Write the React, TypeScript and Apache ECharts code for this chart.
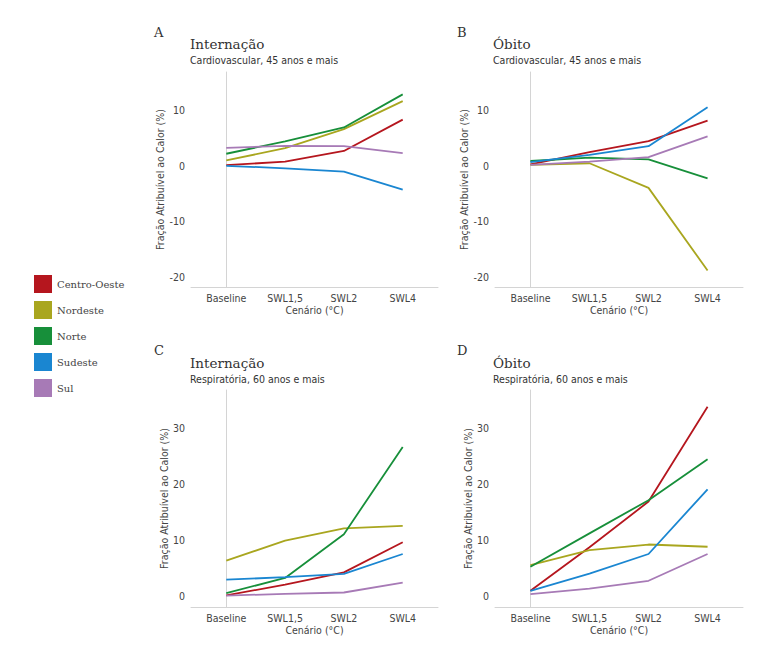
import React, { useEffect, useRef } from "react";
import * as echarts from "echarts";

const categories = ["Baseline", "SWL1,5", "SWL2", "SWL4"];
const regions = ["Centro-Oeste", "Nordeste", "Norte", "Sudeste", "Sul"];
const regionColors = ["#B5161E", "#A9A61F", "#178F3A", "#1A86D1", "#A77AB6"];

// order of rows follows `regions`
const internacaoCardio = [
  [0.05, 0.7, 2.6, 8.2],
  [0.9, 3.1, 6.5, 11.5],
  [2.1, 4.3, 6.8, 12.7],
  [-0.05, -0.5, -1.1, -4.3],
  [3.15, 3.5, 3.45, 2.2],
];
const obitoCardio = [
  [0.2, 2.4, 4.35, 8.0],
  [0.1, 0.4, -4.0, -18.75],
  [0.8, 1.4, 1.1, -2.3],
  [0.6, 1.9, 3.45, 10.4],
  [0.1, 0.7, 1.5, 5.2],
];
const internacaoResp = [
  [0.1, 2.0, 4.2, 9.6],
  [6.3, 9.9, 12.1, 12.55],
  [0.5, 3.2, 11.05, 26.7],
  [2.9, 3.35, 3.95, 7.5],
  [0.05, 0.35, 0.6, 2.35],
];
const obitoResp = [
  [0.9, 8.7, 16.9, 33.9],
  [5.5, 8.2, 9.2, 8.8],
  [5.2, 11.2, 17.15, 24.5],
  [0.9, 4.0, 7.5, 19.1],
  [0.3, 1.3, 2.7, 7.5],
];

const cardioRange = [-21.7, 16.7];
const respRange = [-2, 36.9];

const panelLetters = ["A", "B", "C", "D"];
const panelTitles = ["Internação", "Óbito", "Internação", "Óbito"];
const panelSubtitles = [
  "Cardiovascular, 45 anos e mais",
  "Cardiovascular, 45 anos e mais",
  "Respiratória, 60 anos e mais",
  "Respiratória, 60 anos e mais",
];
const yAxisTitle = "Fração Atribuível ao Calor (%)";
const xAxisTitle = "Cenário (°C)";

const NARROW = "'Liberation Sans Narrow', 'DejaVu Sans Condensed', Roboto, sans-serif";
const SERIF = "'DejaVu Serif', 'Liberation Serif', serif";

export default function App() {
  const ref = useRef<HTMLDivElement>(null);

  useEffect(() => {
    if (!ref.current) return;
    const chart = echarts.init(ref.current, null, { renderer: "svg" });

    const panels = [internacaoCardio, obitoCardio, internacaoResp, obitoResp];
    const ranges = [cardioRange, cardioRange, respRange, respRange];
    const grids = [
      { left: 191, top: 72, width: 247, height: 215 },
      { left: 495, top: 72, width: 248, height: 215 },
      { left: 191, top: 390, width: 247, height: 217 },
      { left: 495, top: 390, width: 248, height: 217 },
    ];
    const titlePos = [
      { lx: 154, ly: 32, tx: 190, ty: 44, sy: 60 },
      { lx: 457, ly: 32, tx: 493, ty: 44, sy: 60 },
      { lx: 154, ly: 350, tx: 190, ty: 363, sy: 379 },
      { lx: 457, ly: 350, tx: 493, ty: 363, sy: 379 },
    ];

    const axisLineStyle = { color: "#d4d4d4", width: 1 };
    const labelStyle = { color: "#444", fontFamily: NARROW, fontSize: 10.5 };

    const xAxes = grids.map((_, i) => ({
      type: "value",
      gridIndex: i,
      min: -0.6,
      max: 3.6,
      splitNumber: 4,
      axisLine: { show: true, lineStyle: axisLineStyle, onZero: false },
      axisTick: { show: false },
      splitLine: { show: false },
      axisLabel: {
        ...labelStyle,
        margin: 5,
        formatter: (v: number) =>
          Number.isInteger(v) && v >= 0 && v < categories.length ? categories[v] : "",
      },
      name: xAxisTitle,
      nameLocation: "middle",
      nameGap: 17,
      nameTextStyle: { color: "#444", fontFamily: NARROW, fontSize: 10.5 },
    }));

    const yAxes = grids.map((_, i) => ({
      type: "value",
      gridIndex: i,
      min: ranges[i][0],
      max: ranges[i][1],
      splitNumber: 4,
      axisLine: { show: true, lineStyle: axisLineStyle },
      axisTick: { show: false },
      splitLine: { show: false },
      axisLabel: {
        ...labelStyle,
        margin: 6,
        formatter: (v: number) => (Math.abs(v % 10) < 1e-9 ? String(v) : ""),
      },
      name: yAxisTitle,
      nameLocation: "middle",
      nameGap: 17,
      nameTextStyle: { color: "#444", fontFamily: NARROW, fontSize: 10.5 },
    }));

    const series: any[] = [];
    panels.forEach((panel, p) => {
      panel.forEach((vals, r) => {
        series.push({
          type: "line",
          name: regions[r],
          xAxisIndex: p,
          yAxisIndex: p,
          data: vals.map((v, k) => [k, v]),
          showSymbol: false,
          symbol: "none",
          lineStyle: { color: regionColors[r], width: 1.8 },
          itemStyle: { color: regionColors[r] },
          silent: true,
        });
      });
    });

    const graphics: any[] = [];
    titlePos.forEach((t, i) => {
      graphics.push({
        type: "text",
        x: t.lx,
        y: t.ly,
        style: { text: panelLetters[i], font: `13px ${SERIF}`, fill: "#333", verticalAlign: "middle" },
      });
      graphics.push({
        type: "text",
        x: t.tx,
        y: t.ty,
        style: { text: panelTitles[i], font: `13.5px ${SERIF}`, fill: "#333", verticalAlign: "middle" },
      });
      graphics.push({
        type: "text",
        x: t.tx,
        y: t.sy,
        style: { text: panelSubtitles[i], font: `10.5px ${NARROW}`, fill: "#333", verticalAlign: "middle" },
      });
    });

    chart.setOption({
      animation: false,
      backgroundColor: "#ffffff",
      grid: grids.map((g) => ({ ...g, containLabel: false })),
      xAxis: xAxes,
      yAxis: yAxes,
      series,
      legend: {
        data: regions,
        orient: "vertical",
        left: 29,
        top: 270,
        icon: "rect",
        itemWidth: 18,
        itemHeight: 18,
        itemGap: 8,
        selectedMode: false,
        textStyle: { color: "#444", fontFamily: SERIF, fontSize: 10, padding: [0, 0, 0, 0] },
      },
      graphic: graphics,
    });

    return () => chart.dispose();
  }, []);

  return (
    <div
      ref={ref}
      style={{ position: "fixed", left: 0, top: 0, width: 768, height: 657, background: "#fff" }}
    />
  );
}
